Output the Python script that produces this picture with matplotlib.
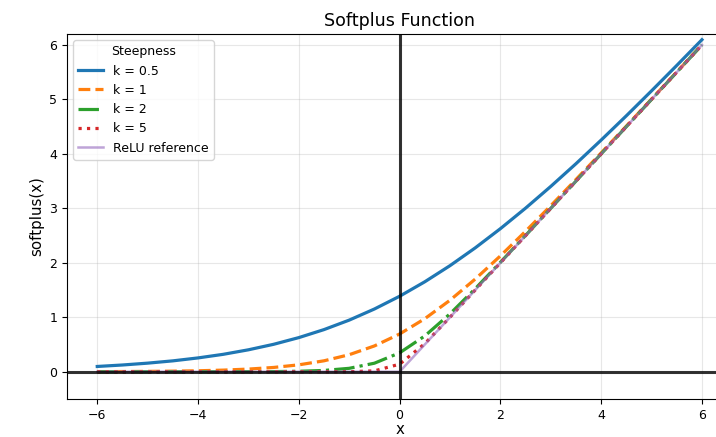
import matplotlib
matplotlib.use("Agg")
import matplotlib.pyplot as plt

# sample points
x_vals = [-6.0, -5.5, -5.0, -4.5, -4.0, -3.5, -3.0, -2.5, -2.0, -1.5, -1.0, -0.5,
          0.0, 0.5, 1.0, 1.5, 2.0, 2.5, 3.0, 3.5, 4.0, 4.5, 5.0, 5.5, 6.0]

y_k05 = [0.097, 0.124, 0.158, 0.200, 0.254, 0.320, 0.403, 0.504, 0.627, 0.774,
         0.948, 1.152, 1.386, 1.652, 1.948, 2.274, 2.627, 3.004, 3.403, 3.820,
         4.254, 4.700, 5.158, 5.624, 6.097]
y_k1 = [0.002, 0.004, 0.007, 0.011, 0.018, 0.030, 0.049, 0.079, 0.127, 0.201,
        0.313, 0.474, 0.693, 0.974, 1.313, 1.701, 2.127, 2.579, 3.049, 3.530,
        4.018, 4.511, 5.007, 5.504, 6.002]
y_k2 = [0.000, 0.000, 0.000, 0.000, 0.000, 0.000, 0.001, 0.003, 0.009, 0.024,
        0.063, 0.157, 0.347, 0.657, 1.063, 1.524, 2.009, 2.503, 3.001, 3.500,
        4.000, 4.500, 5.000, 5.500, 6.000]
y_k5 = [0.000, 0.000, 0.000, 0.000, 0.000, 0.000, 0.000, 0.000, 0.000, 0.000,
        0.001, 0.016, 0.139, 0.516, 1.001, 1.500, 2.000, 2.500, 3.000, 3.500,
        4.000, 4.500, 5.000, 5.500, 6.000]
y_relu = [0.0, 0.0, 0.0, 0.0, 0.0, 0.0, 0.0, 0.0, 0.0, 0.0, 0.0, 0.0,
          0.0, 0.5, 1.0, 1.5, 2.0, 2.5, 3.0, 3.5, 4.0, 4.5, 5.0, 5.5, 6.0]

series = [
    ("k = 0.5", y_k05, "#1f77b4", "-"),
    ("k = 1", y_k1, "#ff7f0e", "--"),
    ("k = 2", y_k2, "#2ca02c", "-."),
    ("k = 5", y_k5, "#d62728", ":"),
]

plt.rcParams["font.size"] = 9

fig = plt.figure(figsize=(7.16, 4.37), dpi=100)
ax = fig.add_axes([0.0936, 0.087, 0.929, 0.835])

for label, ys, color, ls in series:
    ax.plot(x_vals, ys, color=color, linestyle=ls, linewidth=2.3, label=label)
ax.plot(x_vals, y_relu, color="#9467bd", linewidth=1.8, alpha=0.6, label="ReLU reference")

ax.axhline(0, color="black", linewidth=2.2, alpha=0.8)
ax.axvline(0, color="black", linewidth=2.2, alpha=0.8)

ax.set_xlim(-6.6, 6.6)
ax.set_ylim(-0.5, 6.2)
ax.grid(True, alpha=0.3)
ax.set_title("Softplus Function", fontsize=12.6)
ax.set_xlabel("x", fontsize=10.8, labelpad=0)
ax.set_ylabel("softplus(x)", fontsize=10.8)
ax.legend(title="Steepness", loc="upper left")

fig.savefig("out.png", dpi=100)
